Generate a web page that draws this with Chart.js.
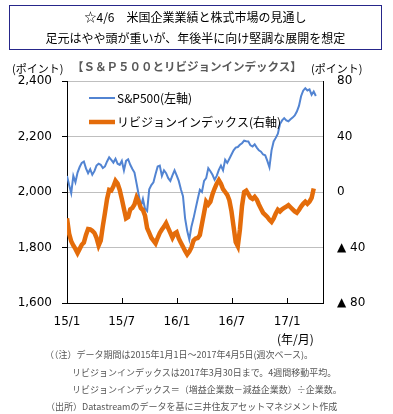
<!DOCTYPE html>
<html>
<head>
<meta charset="utf-8">
<script src="https://cdn.jsdelivr.net/npm/chart.js@4"></script>
<style>
  html, body { margin: 0; padding: 0; background: #fff; }
  body { width: 393px; height: 414px; position: relative; overflow: hidden;
         font-family: "Noto Sans CJK JP", sans-serif; }
  #chart { position: absolute; left: 0; top: 0; }
  .box { position: absolute; left: 9px; top: 5px; width: 371px; height: 43px;
         border: 1px solid #26268a; text-align: center; font-size: 12px; line-height: 21px; color: #000; }
  .t { position: absolute; white-space: nowrap; }
  .note { position: absolute; white-space: nowrap; font-size: 9px; color: #555; line-height: 12px; }
</style>
</head>
<body>
<canvas id="chart" width="393" height="414"></canvas>
<div class="box">☆4/6　米国企業業績と株式市場の見通し<br>足元はやや頭が重いが、年後半に向け堅調な展開を想定</div>
<div class="t" style="left:72px;top:58px;font-size:11.5px;font-weight:bold;color:#595959;">【Ｓ＆Ｐ５００とリビジョンインデックス】</div>
<div class="t" style="left:12px;top:60px;font-size:11px;">(ポイント)</div>
<div class="t" style="left:311px;top:60px;font-size:11px;">(ポイント)</div>
<div class="t" style="left:277px;top:330px;font-size:12px;">(年/月)</div>
<div class="note" style="left:45px;top:349px;">（（注）データ期間は2015年1月1日～2017年4月5日(週次ベース)。</div>
<div class="note" style="left:72px;top:367px;">リビジョンインデックスは2017年3月30日まで。4週間移動平均。</div>
<div class="note" style="left:72px;top:384px;">リビジョンインデックス＝（増益企業数－減益企業数）÷企業数。</div>
<div class="note" style="left:46px;top:401px;">（出所）Datastreamのデータを基に三井住友アセットマネジメント作成</div>
<script>
// weekly, from 2015/1/1
const spx = [
  2058, 2025, 1996, 2058, 2035, 2070, 2090, 2105, 2110, 2085,
  2068, 2082, 2062, 2075, 2095, 2102, 2098, 2086, 2092, 2110,
  2125, 2116, 2106, 2120, 2102, 2098, 2112, 2078, 2112, 2118,
  2098, 2083, 2070, 2030, 1990, 1948, 1975, 1940, 1932, 2010,
  2025, 2035, 2065, 2092, 2095, 2058, 2078, 2068, 2050, 2040,
  2060, 2078, 2060, 2040, 2010, 1985, 1905, 1860, 1829, 1875,
  1905, 1940, 1975, 2008, 2000, 2040, 2050, 2086, 2075, 2062,
  2044, 2058, 2080, 2095, 2078, 2116, 2105, 2120, 2135, 2150,
  2160, 2162, 2170, 2176, 2185, 2183, 2182, 2168, 2164, 2172,
  2160, 2150, 2145, 2135, 2132, 2112, 2089, 2150, 2182, 2195,
  2210, 2245, 2258, 2266, 2258, 2255, 2262, 2268, 2276, 2290,
  2310, 2345, 2365, 2374, 2366, 2370, 2350, 2362, 2346
];
// revision index, 4-week moving average, to 2017/3/30
const revision = [
  -19, -30, -35.5, -38.5, -41, -44, -41, -38, -36.5, -31,
  -26.7, -27, -28, -29.5, -33, -38.5, -35, -24.5, -15, -5,
  1.5, 1, 4, 8, 6, 1.5, -5, -12, -19, -18,
  -12.5, -11.5, -9, -4, -7, -11.5, -13, -17, -26, -29.5,
  -33, -35, -37, -33, -29.5, -27, -25, -22.5, -26, -29.5,
  -33, -30, -29, -33.5, -36.5, -39.5, -42.5, -45, -43, -40,
  -35, -33.5, -33.2, -31, -23, -15, -7, -9, -7, -1.5,
  2.5, 6, 8.5, 6, 2, 0, -2, -6, -14, -25,
  -36, -39, -27, -10, 0, 1, -1.5, -4, -5, -3.5,
  -5.5, -9, -12, -15, -16.5, -18, -20, -21.5, -19, -15.5,
  -12.8, -14, -12.5, -11.5, -10.5, -9.5, -11, -12.5, -14, -15,
  -13, -10.5, -8.5, -7, -8.5, -7, -4.3, 2.5
];
const tickWeeks = [0, 25.9, 52.1, 78.1, 104.4];
const tickLabels = ["15/1", "15/7", "16/1", "16/7", "17/1"];
const seriesNames = ["S&P500(左軸)", "リビジョンインデックス(右軸)"];

const blue = "#5284d2";
const orange = "#e46c0a";

const extras = {
  id: "extras",
  afterDatasetsDraw(chart) {
    const { ctx, chartArea } = chart;
    const xs = chart.scales.x;
    ctx.save();
    ctx.strokeStyle = "#000";
    ctx.lineWidth = 1;
    xs.ticks.forEach((t) => {
      const px = Math.round(xs.getPixelForValue(t.value)) + 0.5;
      ctx.beginPath();
      ctx.moveTo(px, chartArea.bottom);
      ctx.lineTo(px, chartArea.bottom - 5);
      ctx.stroke();
    });
    // legend
    const lx = chartArea.left + 22, ly = chartArea.top + 17;
    [[blue, 2], [orange, 4.5]].forEach(([c, w], i) => {
      const y = ly + i * 24;
      ctx.strokeStyle = c;
      ctx.lineWidth = w;
      ctx.beginPath();
      ctx.moveTo(lx, y);
      ctx.lineTo(lx + 26, y);
      ctx.stroke();
      ctx.fillStyle = "#000";
      ctx.font = "12px 'Noto Sans CJK JP'";
      ctx.textBaseline = "middle";
      ctx.fillText(seriesNames[i], lx + 28, y);
    });
    ctx.restore();
  },
};

new Chart(document.getElementById("chart"), {
  type: "line",
  data: {
    datasets: [
      {
        label: seriesNames[0],
        data: spx.map((v, i) => ({ x: i, y: v })),
        borderColor: blue,
        borderWidth: 2,
        pointRadius: 0,
        tension: 0,
        yAxisID: "y",
        order: 2,
      },
      {
        label: seriesNames[1],
        data: revision.map((v, i) => ({ x: i, y: v })),
        borderColor: orange,
        borderWidth: 4.5,
        pointRadius: 0,
        tension: 0,
        yAxisID: "y2",
        order: 1,
      },
    ],
  },
  options: {
    responsive: false,
    animation: false,
    devicePixelRatio: 1,
    layout: { padding: { top: 81, left: 0, right: 0, bottom: 0 } },
    plugins: { legend: { display: false }, tooltip: { enabled: false } },
    scales: {
      x: {
        type: "linear",
        min: 0,
        max: 121.4,
        afterBuildTicks: (s) => { s.ticks = tickWeeks.map((v) => ({ value: v })); },
        afterFit: (s) => { s.height = 111; },
        grid: { display: false, drawTicks: false },
        border: { display: true, color: "#000", width: 1 },
        ticks: {
          autoSkip: false,
          maxRotation: 0,
          padding: 12,
          color: "#000",
          font: { family: "DejaVu Sans", size: 12 },
          callback: (v, i) => tickLabels[i],
        },
      },
      y: {
        position: "left",
        min: 1600,
        max: 2400,
        afterFit: (s) => { s.width = 67; },
        grid: { color: "#bfbfbf", tickColor: "#000", tickLength: 5 },
        border: { display: true, color: "#000", width: 1 },
        ticks: {
          stepSize: 200,
          padding: 10,
          color: "#000",
          font: { family: "DejaVu Sans", size: 12 },
          callback: (v) => v.toString().replace(/\B(?=(\d{3})+(?!\d))/g, ","),
        },
      },
      y2: {
        position: "right",
        min: -80,
        max: 80,
        afterFit: (s) => { s.width = 70; },
        grid: { display: false, drawTicks: false },
        border: { display: true, color: "#000", width: 1 },
        ticks: {
          stepSize: 40,
          padding: 14,
          color: "#000",
          font: { family: "DejaVu Sans", size: 12 },
          callback: (v) => (v < 0 ? "▲ " + -v : String(v)),
        },
      },
    },
  },
  plugins: [extras],
});
</script>
</body>
</html>
